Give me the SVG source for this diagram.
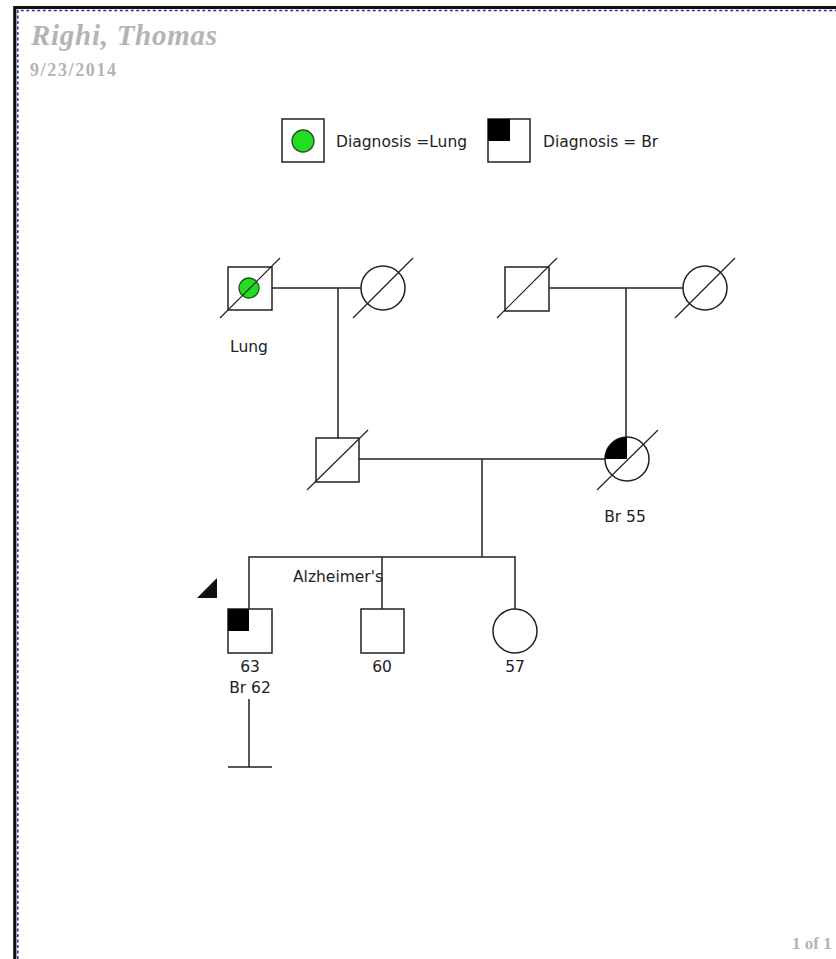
<svg xmlns="http://www.w3.org/2000/svg" width="836" height="959" viewBox="0 0 836 959">
<style>
.sym{fill:#fff;stroke:#222;stroke-width:1.5}
.ln{fill:none;stroke:#222;stroke-width:1.5}
.dx{fill:none;stroke:#222;stroke-width:1.2}
.lbl{font-family:"DejaVu Sans",sans-serif;font-size:15.5px;fill:#222}
.hdr{font-family:"Liberation Serif",serif;font-weight:bold;fill:#b4b4b4}
</style>
<rect x="0" y="0" width="836" height="959" fill="#fff"/>
<path d="M14.8,959 V7.5 H836" fill="none" stroke="#111" stroke-width="3.2"/>
<path d="M17.8,959 V10.5 H836" fill="none" stroke="#2a2aa8" stroke-width="1.5" stroke-dasharray="3,2.5"/>
<g id="header">
<text class="hdr" x="31" y="45" font-size="29" font-style="italic" textLength="186">Righi, Thomas</text>
<text class="hdr" x="30" y="76" font-size="18" textLength="86">9/23/2014</text>
<text class="hdr" x="792" y="949" font-size="17">1 of 1</text>
</g>
<g id="legend">
<rect class="sym" x="282" y="119" width="42" height="43"/>
<circle cx="303" cy="141" r="11" fill="#22dd22" stroke="#225522" stroke-width="1.3"/>
<text class="lbl" x="336" y="147" font-size="16">Diagnosis =Lung</text>
<rect class="sym" x="488" y="119" width="42" height="43"/>
<rect x="488" y="119" width="22" height="22" fill="#000"/>
<text class="lbl" x="543" y="147" font-size="16">Diagnosis = Br</text>
</g>
<g id="connectors">
<path class="ln" d="M272,288 H362 M338,288 V438"/>
<path class="ln" d="M549,288 H683 M626,288 V437"/>
<path class="ln" d="M359,459 H605 M482,459 V557"/>
<path class="ln" d="M249,609 V557 H515 V609 M382,557 V609"/>
<path class="ln" d="M249,699 V767 M228,767 H272"/>
</g>
<g id="paternal-grandfather">
<rect class="sym" x="228" y="267" width="44" height="43"/>
<circle cx="249" cy="288" r="10" fill="#22dd22" stroke="#225522" stroke-width="1.3"/>
<line class="dx" x1="220" y1="318" x2="280" y2="258"/>
<text class="lbl" x="249" y="352" text-anchor="middle">Lung</text>
</g>
<g id="paternal-grandmother">
<circle class="sym" cx="383" cy="288" r="22"/>
<line class="dx" x1="353" y1="318" x2="413" y2="258"/>
</g>
<g id="maternal-grandfather">
<rect class="sym" x="505" y="267" width="44" height="44"/>
<line class="dx" x1="497" y1="318" x2="557" y2="258"/>
</g>
<g id="maternal-grandmother">
<circle class="sym" cx="705" cy="288" r="22"/>
<line class="dx" x1="675" y1="318" x2="735" y2="258"/>
</g>
<g id="father">
<rect class="sym" x="316" y="438" width="43" height="44"/>
<line class="dx" x1="307" y1="490" x2="368" y2="430"/>
</g>
<g id="mother">
<circle class="sym" cx="627" cy="459" r="22"/>
<path d="M627,459 L605,459 A22,22 0 0,1 627,437 Z" fill="#000"/>
<line class="dx" x1="597" y1="490" x2="658" y2="430"/>
<text class="lbl" x="625" y="522" text-anchor="middle">Br 55</text>
</g>
<g id="proband">
<path d="M197,598 L217,578 L217,598 Z" fill="#111"/>
<rect class="sym" x="228" y="609" width="44" height="44"/>
<rect x="228" y="609" width="21" height="22" fill="#000"/>
<text class="lbl" x="250" y="672" text-anchor="middle">63</text>
<text class="lbl" x="250" y="693" text-anchor="middle">Br 62</text>
</g>
<g id="brother">
<rect class="sym" x="361" y="609" width="43" height="44"/>
<text class="lbl" x="293" y="582">Alzheimer's</text>
<text class="lbl" x="382" y="672" text-anchor="middle">60</text>
</g>
<g id="sister">
<circle class="sym" cx="515" cy="631" r="22"/>
<text class="lbl" x="515" y="672" text-anchor="middle">57</text>
</g>
</svg>
